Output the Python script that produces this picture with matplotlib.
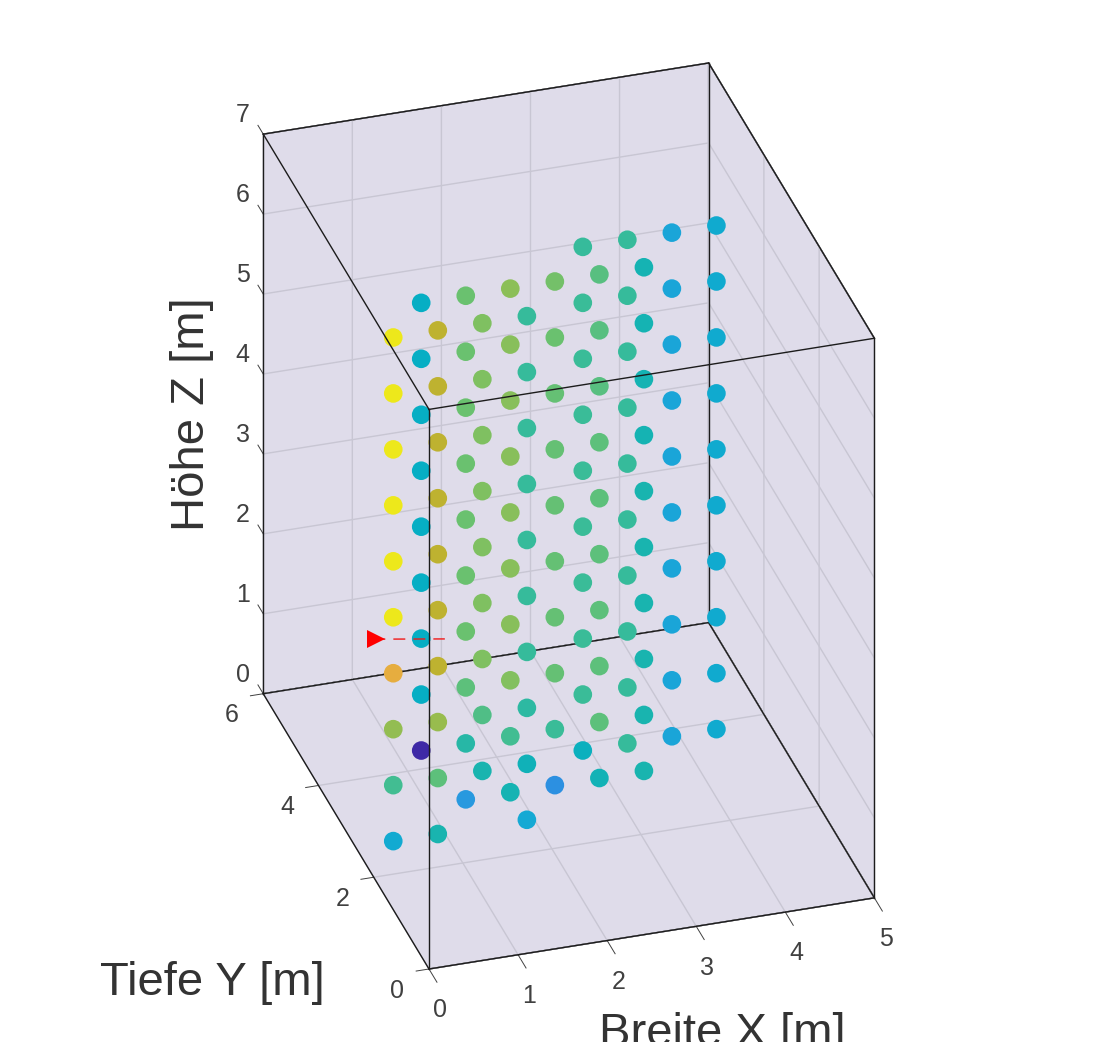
import matplotlib
matplotlib.use("Agg")
import matplotlib.pyplot as plt
from matplotlib.colors import LinearSegmentedColormap
from mpl_toolkits.mplot3d import proj3d

plt.rcParams['font.family'] = ['Liberation Sans', 'DejaVu Sans']

X_LABEL = "Breite X [m]"
Y_LABEL = "Tiefe Y [m]"
Z_LABEL = "Höhe Z [m]"
x_ticks = [0, 1, 2, 3, 4, 5]
y_ticks = [0, 2, 4, 6]
z_ticks = [0, 1, 2, 3, 4, 5, 6, 7]

z_levels = [0.35, 1.05, 1.75, 2.45, 3.15, 3.85, 4.55, 5.25, 5.95, 6.65]

col_x = [0.25, 0.75, 0.75, 1.25, 1.25, 1.75, 1.75, 2.25, 2.75, 2.75, 3.25, 3.25, 3.75, 4.25]
col_y = [2.1, 2.7, 2.1, 2.7, 2.1, 2.7, 2.1, 2.7, 3.3, 2.7, 3.3, 2.7, 3.3, 3.3]
# measured value per column, lowest point first; columns with 9 values start at the 2nd level
col_values = [
    [.38, .58, .72, .86, 1, 1, 1, 1, 1, 1],
    [0, .43, .43, .43, .43, .43, .43, .43, .43],
    [.50, .62, .73, .79, .79, .79, .79, .79, .79, .79],
    [.30, .53, .62, .64, .64, .64, .64, .64, .64, .64],
    [.50, .60, .68, .68, .68, .68, .68, .68, .68],
    [.49, .58, .69, .70, .70, .70, .70, .70, .70, .71],
    [.37, .47, .54, .56, .56, .56, .56, .56, .56, .56],
    [.28, .57, .63, .63, .63, .63, .63, .63, .64, .66],
    [.45, .57, .57, .57, .57, .57, .57, .57, .57, .56],
    [.48, .62, .62, .62, .62, .62, .62, .61, .61, .61],
    [.56, .56, .56, .56, .56, .56, .56, .56, .56, .56],
    [.50, .50, .50, .50, .50, .50, .49, .49, .49, .49],
    [.35, .35, .35, .35, .35, .35, .35, .35, .35, .35],
    [.39, .39, .39, .39, .39, .39, .39, .39, .39, .39],
]
source_x = [0.34, 1.108]
source_y = [3.0, 3.0]
source_z = [2.344, 2.21]

PANE = "#dfdcea"
GRID = "#c8c6d3"
INK = "#404040"
cmap = LinearSegmentedColormap.from_list("parula_like", [
    (0.00, "#3E29A6"), (0.14, "#4741E8"), (0.29, "#2A97E0"), (0.36, "#17A8D6"),
    (0.43, "#06AEC4"), (0.50, "#18B4B0"), (0.57, "#3BBC98"), (0.64, "#6BC16F"),
    (0.71, "#8CBF58"), (0.79, "#BDB22F"), (0.86, "#E6AC40"), (1.00, "#EDE81B"),
])

W, H = 1115, 1042
fig = plt.figure(figsize=(W / 100, H / 100), dpi=100, facecolor="white")
side = 900
ax = fig.add_axes([0.1, 0.1, side / W, side / H], projection="3d",
                  proj_type="ortho", computed_zorder=False, facecolor="none")
ax.view_init(elev=31, azim=-107.23)
ax.set_xlim(0, 5, view_margin=0)
ax.set_ylim(0, 6, view_margin=0)
ax.set_zlim(0, 7, view_margin=0)
ax.set_box_aspect((5, 6, 7))

ax.set_xticks(x_ticks)
ax.set_yticks(y_ticks)
ax.set_zticks(z_ticks)
ax.tick_params(labelsize=18, colors=INK)
ax.tick_params(axis='x', pad=3)
ax.tick_params(axis='y', pad=2)
ax.tick_params(axis='z', pad=4)
for axis, inward, outward in zip((ax.xaxis, ax.yaxis, ax.zaxis), (0.6, 0.36, 0.0), (0.0, 0.0, 0.4)):
    axis.set_pane_color(PANE, alpha=1)
    axis.pane.set_edgecolor((0, 0, 0, 0))
    axis.line.set_color((0, 0, 0, 0))
    axis._axinfo['grid'].update(color=GRID, linewidth=1.0, linestyle='-')
    axis._axinfo['tick'].update(inward_factor=inward, outward_factor=outward,
                                linewidth={True: 0.7, False: 0.7}, color="#262626")
ax.zaxis.set_ticks_position('upper')
ax.zaxis._get_tickdir = lambda pos: 1   # z ticks run along the depth axis
ax.grid(True)

# data
xs, ys, zs, vs = [], [], [], []
for cx, cy, vals in zip(col_x, col_y, col_values):
    lev = z_levels[-len(vals):]
    for z, v in zip(lev, vals):
        xs.append(cx); ys.append(cy); zs.append(z); vs.append(v)

x0, x1 = ax.get_xlim(); y0, y1 = ax.get_ylim(); z0, z1 = ax.get_zlim()
back_edges = [
    ((x0, x1), (y1, y1), (z0, z0)), ((x0, x0), (y1, y1), (z0, z1)),
    ((x1, x1), (y1, y1), (z0, z1)), ((x1, x1), (y1, y0), (z0, z0)),
]
front_edges = [
    ((x0, x1), (y0, y0), (z0, z0)), ((x0, x0), (y0, y1), (z0, z0)),
    ((x0, x0), (y0, y0), (z0, z1)), ((x1, x1), (y0, y0), (z0, z1)),
    ((x0, x1), (y0, y0), (z1, z1)), ((x0, x0), (y0, y1), (z1, z1)),
    ((x1, x1), (y0, y1), (z1, z1)), ((x0, x1), (y1, y1), (z1, z1)),
]
for ex, ey, ez in back_edges:
    ax.plot(ex, ey, ez, color="#1c1c1c", lw=1.0, zorder=2)
ax.scatter(xs, ys, zs, c=vs, cmap=cmap, vmin=0, vmax=1, s=180, linewidths=0,
           depthshade=False, zorder=3, alpha=1)
ax.plot(source_x, source_y, source_z, color="#f01818", lw=1.0,
        linestyle=(2.2, (8.6, 5.8)), zorder=3.5)
ax.plot(source_x[:1], source_y[:1], source_z[:1], marker=">", ms=13, color="#ff0000",
        linestyle="none", markeredgewidth=0, zorder=3.6)
for ex, ey, ez in front_edges:
    ax.plot(ex, ey, ez, color="#1c1c1c", lw=1.0, zorder=4)
ax.set_xlim(0, 5, view_margin=0)
ax.set_ylim(0, 6, view_margin=0)
ax.set_zlim(0, 7, view_margin=0)

# fit the box onto its place in the figure
def pix(x, y, z):
    px, py, _ = proj3d.proj_transform(x, y, z, ax.get_proj())
    return ax.transData.transform((px, py))

A_T = (429.0, H - 969.0)   # corner (0,0,0)
B_T = (709.0, H - 63.0)    # corner (5,6,7)
fig.canvas.draw()
a, b = pix(0, 0, 0), pix(5, 6, 7)
scale = ((B_T[1] - A_T[1]) / (b[1] - a[1]))
side *= scale
ax.set_position([0.1, 0.1, side / W, side / H])
fig.canvas.draw()
a = pix(0, 0, 0)
l = 0.1 + (A_T[0] - a[0]) / W
bt = 0.1 + (A_T[1] - a[1]) / H
ax.set_position([l, bt, side / W, side / H])

# nudge the tick labels, in pixels, at draw time
def nudge(label, dx, dy):
    base_draw = label.draw
    def draw(renderer):
        tr = label.get_transform()
        p = tr.transform(label.get_position())
        q = tr.inverted().transform((p[0] + dx, p[1] + dy))
        label.set_position(q)
        base_draw(renderer)
    label.draw = draw

for axis, (dx, dy) in zip((ax.xaxis, ax.yaxis, ax.zaxis), ((6, -3.5), (-19, 8), (0, 24))):
    for tick in axis.get_major_ticks():
        nudge(tick.label1, dx, dy)

LABEL_INK = "#333333"
fig.text(722 / W, 1 - 1046 / H, X_LABEL, fontsize=34, color=LABEL_INK, ha="center", va="baseline")
fig.text(212 / W, 1 - 995 / H, Y_LABEL, fontsize=34, color=LABEL_INK, ha="center", va="baseline")
fig.text(192 / W, 1 - 414 / H, Z_LABEL, fontsize=34, color=LABEL_INK, ha="center", va="center", rotation=90)

fig.savefig("out.png", dpi=100)
